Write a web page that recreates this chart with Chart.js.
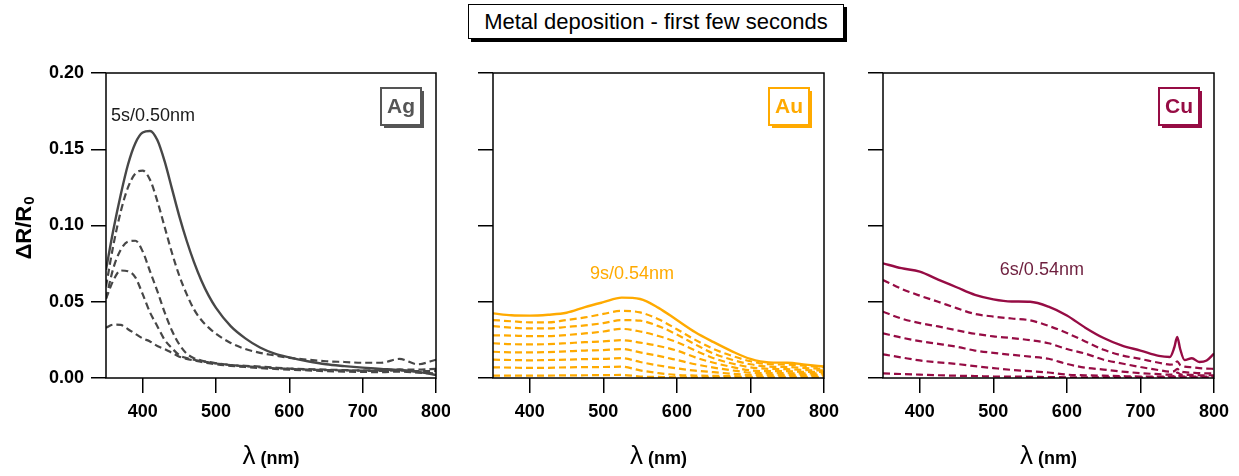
<!DOCTYPE html>
<html>
<head>
<meta charset="utf-8">
<script src="https://cdn.jsdelivr.net/npm/chart.js@4.4.1/dist/chart.umd.min.js"></script>
<style>
  html, body { margin: 0; padding: 0; background: #fff; }
  #wrap { position: relative; width: 1239px; height: 476px; overflow: hidden; }
  .panel { position: absolute; top: 0; }
  #title {
    position: absolute; left: 468px; top: 4px; width: 374px; height: 33px;
    border: 1.5px solid #000; box-shadow: 3px 3px 0 #000; background: #fff;
    font: 22px "Liberation Sans", Arial, sans-serif; line-height: 33px; text-align: center;
  }
</style>
</head>
<body>
<div id="wrap">
  <div id="title">Metal deposition - first few seconds</div>
  <canvas class="panel" id="cAg" width="450" height="476" style="left:0"></canvas>
  <canvas class="panel" id="cAu" width="390" height="476" style="left:450px"></canvas>
  <canvas class="panel" id="cCu" width="399" height="476" style="left:840px"></canvas>
</div>
<script>
const FONT = '"Liberation Sans", Arial, sans-serif';

// axes
const xTicks = [400, 500, 600, 700, 800];
const yTicks = [0, 0.05, 0.10, 0.15, 0.20];

// Ag: solid = 5s/0.50nm, then the earlier (dashed) spectra
const agWl = [350, 360, 370, 380, 390, 400, 410, 420, 430, 440, 450, 460, 470, 480, 490, 500,
              520, 540, 560, 580, 600, 625, 650, 675, 700, 725, 750, 775, 800];
const agFinal = [0.071, 0.097, 0.120, 0.140, 0.154, 0.161, 0.162, 0.156, 0.142, 0.124, 0.106, 0.090, 0.076, 0.064, 0.054, 0.046,
                 0.034, 0.026, 0.020, 0.016, 0.0135, 0.011, 0.009, 0.0078, 0.0068, 0.006, 0.0052, 0.004, 0.002];
const agD1 = [0.060, 0.087, 0.109, 0.125, 0.134, 0.136, 0.130, 0.116, 0.099, 0.082, 0.067, 0.055, 0.045, 0.038, 0.033, 0.029,
              0.023, 0.019, 0.0165, 0.0148, 0.0132, 0.012, 0.011, 0.0105, 0.010, 0.010, 0.0125, 0.009, 0.012];
const agD2 = [0.052, 0.072, 0.084, 0.0895, 0.090, 0.083, 0.070, 0.057, 0.043, 0.031, 0.022, 0.016, 0.013, 0.0115, 0.0105, 0.0098,
              0.0085, 0.008, 0.0075, 0.0068, 0.0062, 0.0058, 0.0055, 0.0052, 0.005, 0.005, 0.0056, 0.0055, 0.006];
const agD3 = [0.052, 0.064, 0.0705, 0.070, 0.066, 0.055, 0.043, 0.034, 0.025, 0.0195, 0.015, 0.013, 0.012, 0.011, 0.0102, 0.0095,
              0.0085, 0.0077, 0.007, 0.0064, 0.006, 0.0055, 0.0052, 0.005, 0.0048, 0.0046, 0.005, 0.0045, 0.0045];
const agD4 = [0.033, 0.035, 0.0348, 0.032, 0.029, 0.026, 0.024, 0.021, 0.019, 0.0165, 0.014, 0.0125, 0.0115, 0.0105, 0.0097, 0.009,
              0.008, 0.0072, 0.0065, 0.006, 0.0055, 0.005, 0.0045, 0.0042, 0.004, 0.0038, 0.0042, 0.0035, 0.003];

// Au: solid = 9s/0.54nm
const auWl = [350, 375, 400, 425, 450, 475, 500, 525, 550, 575, 600, 625, 650, 675, 700, 725, 750, 775, 800];
const auFinal = [0.0424, 0.0411, 0.0409, 0.0415, 0.0428, 0.0465, 0.0497, 0.0527, 0.0518, 0.0460, 0.0380, 0.0300, 0.0235, 0.0175, 0.0125, 0.0102, 0.0100, 0.0088, 0.0075];
const auD1 = [0.0380, 0.0372, 0.0365, 0.0365, 0.0380, 0.0397, 0.0420, 0.0440, 0.0430, 0.0385, 0.0320, 0.0250, 0.0190, 0.0145, 0.0110, 0.0090, 0.0088, 0.0080, 0.0070];
const auD2 = [0.0340, 0.0330, 0.0325, 0.0325, 0.0335, 0.0345, 0.0360, 0.0380, 0.0376, 0.0340, 0.0285, 0.0220, 0.0160, 0.0120, 0.0090, 0.0075, 0.0072, 0.0065, 0.0060];
const auD3 = [0.0280, 0.0278, 0.0275, 0.0275, 0.0282, 0.0292, 0.0305, 0.0322, 0.0305, 0.0275, 0.0235, 0.0180, 0.0130, 0.0095, 0.0070, 0.0060, 0.0058, 0.0052, 0.0050];
const auD4 = [0.0228, 0.0222, 0.0220, 0.0222, 0.0228, 0.0235, 0.0240, 0.0248, 0.0232, 0.0210, 0.0180, 0.0135, 0.0100, 0.0072, 0.0050, 0.0045, 0.0045, 0.0040, 0.0040];
const auD5 = [0.0172, 0.0168, 0.0168, 0.0170, 0.0175, 0.0180, 0.0183, 0.0190, 0.0168, 0.0145, 0.0118, 0.0090, 0.0068, 0.0050, 0.0035, 0.0032, 0.0032, 0.0030, 0.0030];
const auD6 = [0.0120, 0.0118, 0.0116, 0.0118, 0.0120, 0.0124, 0.0126, 0.0130, 0.0105, 0.0082, 0.0063, 0.0048, 0.0038, 0.0028, 0.0020, 0.0020, 0.0020, 0.0020, 0.0020];
const auD7 = [0.0070, 0.0068, 0.0066, 0.0067, 0.0070, 0.0071, 0.0072, 0.0074, 0.0050, 0.0032, 0.0020, 0.0016, 0.0014, 0.0012, 0.0010, 0.0010, 0.0010, 0.0010, 0.0010];
const auD8 = [0.0015, 0.0015, 0.0015, 0.0016, 0.0017, 0.0018, 0.0019, 0.0020, 0.0010, 0.0007, 0.0005, 0.0005, 0.0005, 0.0005, 0.0005, 0.0005, 0.0005, 0.0005, 0.0005];

// Cu: solid = 6s/0.54nm (spike near 750 nm)
const cuWl = [350, 375, 400, 425, 450, 475, 500, 525, 550, 575, 600, 625, 650, 675, 700, 725,
              740, 746, 750, 754, 760, 770, 780, 790, 800];
const cuFinal = [0.0752, 0.0720, 0.0697, 0.0645, 0.0595, 0.0545, 0.0516, 0.0502, 0.0500, 0.0468, 0.0410, 0.0330, 0.0262, 0.0212, 0.0180, 0.0145,
                 0.0138, 0.0200, 0.0270, 0.0190, 0.0118, 0.0130, 0.0105, 0.0115, 0.0160];
const cuD1 = [0.0643, 0.0585, 0.0540, 0.0500, 0.0458, 0.0420, 0.0403, 0.0390, 0.0378, 0.0342, 0.0295, 0.0240, 0.0185, 0.0148, 0.0125, 0.0100,
              0.0088, 0.0090, 0.0110, 0.0085, 0.0075, 0.0070, 0.0065, 0.0062, 0.0060];
const cuD2 = [0.0435, 0.0390, 0.0360, 0.0338, 0.0313, 0.0290, 0.0273, 0.0262, 0.0248, 0.0228, 0.0190, 0.0160, 0.0120, 0.0095, 0.0072, 0.0052,
              0.0042, 0.0045, 0.0060, 0.0045, 0.0038, 0.0035, 0.0032, 0.0030, 0.0030];
const cuD3 = [0.0293, 0.0265, 0.0242, 0.0224, 0.0205, 0.0180, 0.0165, 0.0152, 0.0140, 0.0126, 0.0092, 0.0068, 0.0055, 0.0042, 0.0032, 0.0025,
              0.0022, 0.0025, 0.0035, 0.0025, 0.0020, 0.0020, 0.0018, 0.0018, 0.0018];
const cuD4 = [0.0155, 0.0135, 0.0115, 0.0103, 0.0092, 0.0078, 0.0065, 0.0053, 0.0045, 0.0036, 0.0022, 0.0018, 0.0015, 0.0012, 0.0010, 0.0010,
              0.0010, 0.0012, 0.0020, 0.0012, 0.0010, 0.0010, 0.0010, 0.0010, 0.0010];
const cuD5 = [0.0030, 0.0026, 0.0022, 0.0018, 0.0015, 0.0013, 0.0010, 0.0009, 0.0008, 0.0006, 0.0005, 0.0005, 0.0005, 0.0005, 0.0005, 0.0005,
              0.0005, 0.0006, 0.0010, 0.0006, 0.0005, 0.0005, 0.0005, 0.0005, 0.0005];

// labels next to the final spectrum: [wavelength, value, text]
const agNote = [414, 0.172, '5s/0.50nm'];
const auNote = [539, 0.0684, '9s/0.54nm'];
const cuNote = [566, 0.0708, '6s/0.54nm'];

function makeSets(wl, series, color) {
  return series.map((vals, i) => ({
    data: vals.map((v, k) => ({ x: wl[k], y: v })),
    borderColor: color,
    borderWidth: i === 0 ? 2.4 : 2.2,
    borderDash: i === 0 ? [] : [7, 4],
    pointRadius: 0,
    cubicInterpolationMode: 'monotone',
    fill: false
  }));
}

// frame, metal tag, note, axis titles
const deco = {
  id: 'deco',
  afterDraw(chart, args, o) {
    const { ctx, chartArea: a } = chart;
    const xs = chart.scales.x, ys = chart.scales.y;
    ctx.save();
    ctx.lineWidth = 1.5;
    ctx.strokeStyle = '#000';
    ctx.strokeRect(a.left, a.top, a.right - a.left, a.bottom - a.top);

    // metal tag with drop shadow
    ctx.font = 'bold 21px ' + FONT;
    const bw = ctx.measureText(o.metal).width + 12, bh = 37;
    const bx = a.right - 15 - bw, by = a.top + 15;
    ctx.fillStyle = o.color;
    ctx.fillRect(bx + 3, by + 3, bw, bh);
    ctx.fillStyle = '#fff';
    ctx.fillRect(bx, by, bw, bh);
    ctx.lineWidth = 2;
    ctx.strokeStyle = o.color;
    ctx.strokeRect(bx, by, bw, bh);
    ctx.fillStyle = o.color;
    ctx.textAlign = 'center';
    ctx.textBaseline = 'middle';
    ctx.fillText(o.metal, bx + bw / 2, by + bh / 2 + 1);

    // note
    ctx.font = '18px ' + FONT;
    ctx.fillStyle = o.noteColor;
    ctx.fillText(o.note[2], xs.getPixelForValue(o.note[0]), ys.getPixelForValue(o.note[1]));

    // x title: λ (nm)
    ctx.textAlign = 'left';
    ctx.textBaseline = 'alphabetic';
    ctx.fillStyle = '#000';
    ctx.font = '26px ' + FONT;
    const wl = ctx.measureText('λ').width;
    ctx.font = 'bold 18px ' + FONT;
    const wn = ctx.measureText('(nm)').width;
    const x0 = (a.left + a.right) / 2 - (wl + 5 + wn) / 2;
    const yb = a.bottom + 86;
    ctx.font = '26px ' + FONT;
    ctx.fillText('λ', x0, yb);
    ctx.font = 'bold 18px ' + FONT;
    ctx.fillText('(nm)', x0 + wl + 5, yb);

    // y title: ΔR/R0
    if (o.yTitle) {
      ctx.translate(25, (a.top + a.bottom) / 2 + 3);
      ctx.rotate(-Math.PI / 2);
      ctx.font = 'bold 22px ' + FONT;
      const w1 = ctx.measureText('ΔR/R').width;
      ctx.font = 'bold 15px ' + FONT;
      const w2 = ctx.measureText('0').width;
      const s = -(w1 + w2) / 2;
      ctx.textBaseline = 'middle';
      ctx.font = 'bold 22px ' + FONT;
      ctx.fillText('ΔR/R', s, 0);
      ctx.font = 'bold 15px ' + FONT;
      ctx.fillText('0', s + w1 + 1, 5);
    }
    ctx.restore();
  }
};

function makePanel(id, datasets, cfg) {
  const axisGrid = { drawOnChartArea: false, drawTicks: true, tickLength: 15, color: '#000', lineWidth: 1.5 };
  new Chart(document.getElementById(id), {
    type: 'line',
    data: { datasets: datasets },
    options: {
      responsive: false,
      animation: false,
      events: [],
      layout: { padding: { top: 73, right: cfg.right, bottom: 0, left: 0 } },
      plugins: {
        legend: { display: false },
        tooltip: { enabled: false },
        deco: cfg.deco
      },
      scales: {
        x: {
          type: 'linear', min: 350, max: 800,
          afterBuildTicks: s => { s.ticks = xTicks.map(v => ({ value: v })); },
          afterFit: s => { s.height = 98; s.paddingLeft = 0; s.paddingRight = 0; },
          grid: axisGrid,
          border: { display: false },
          ticks: { color: '#000', font: { family: FONT, size: 18, weight: 'bold' }, padding: 8, maxRotation: 0, autoSkip: false }
        },
        y: {
          type: 'linear', min: 0, max: 0.2,
          afterBuildTicks: s => { s.ticks = yTicks.map(v => ({ value: v })); },
          afterFit: s => { s.width = cfg.left; s.paddingTop = 0; s.paddingBottom = 0; },
          grid: axisGrid,
          border: { display: false },
          ticks: {
            color: '#000', font: { family: FONT, size: 18, weight: 'bold' }, padding: 7,
            callback: v => cfg.yLabels ? v.toFixed(2) : ''
          }
        }
      }
    },
    plugins: [deco]
  });
}

const agColor = '#474747', auColor = '#ffaa00', cuColor = '#960c44';

makePanel('cAg', makeSets(agWl, [agFinal, agD1, agD2, agD3, agD4], agColor), {
  left: 106, right: 14, yLabels: true,
  deco: { metal: 'Ag', color: '#555555', note: agNote, noteColor: '#1a1a1a', yTitle: true }
});
makePanel('cAu', makeSets(auWl, [auFinal, auD1, auD2, auD3, auD4, auD5, auD6, auD7, auD8], auColor), {
  left: 43, right: 16, yLabels: false,
  deco: { metal: 'Au', color: auColor, note: auNote, noteColor: auColor, yTitle: false }
});
makePanel('cCu', makeSets(cuWl, [cuFinal, cuD1, cuD2, cuD3, cuD4, cuD5], cuColor), {
  left: 43, right: 25, yLabels: false,
  deco: { metal: 'Cu', color: cuColor, note: cuNote, noteColor: '#6e1f3e', yTitle: false }
});
</script>
</body>
</html>
